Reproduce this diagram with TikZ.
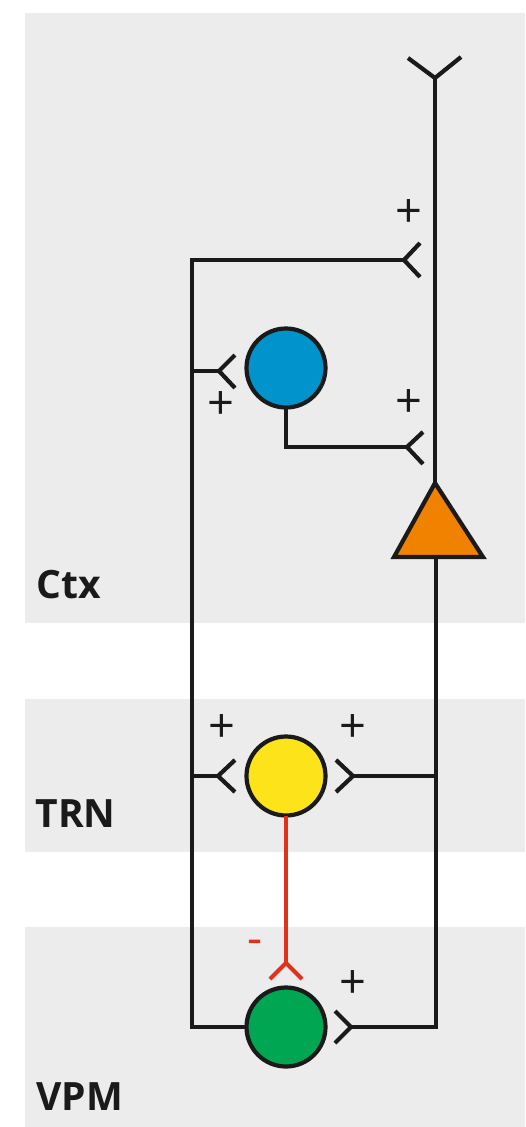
\documentclass[tikz,border=0pt]{standalone}
\usepackage{fontspec}
\setmainfont{Open Sans}
\definecolor{bandgray}{HTML}{EBECEB}
\definecolor{ink}{HTML}{1A1A1A}
\definecolor{cblue}{HTML}{0093CC}
\definecolor{cyellow}{HTML}{FCE31A}
\definecolor{cgreen}{HTML}{00A651}
\definecolor{corange}{HTML}{F08200}
\definecolor{cred}{HTML}{E0301E}
\begin{document}
\begin{tikzpicture}[x=1pt,y=-1pt,
  wire/.style={draw=ink,line width=4.2pt,line cap=butt,line join=miter},
  inh/.style={draw=cred,line width=4.2pt,line cap=butt,line join=miter},
  cell/.style={circle,draw=ink,line width=4.2pt,minimum size=79pt,inner sep=0pt,outer sep=0pt},
  region/.style={anchor=base west,text=ink,font=\bfseries\fontsize{39}{39}\selectfont},
  sign/.style={text=ink,inner sep=0pt,font=\fontsize{47}{47}\selectfont},
  negsign/.style={text=cred,inner sep=0pt,font=\fontsize{47}{47}\selectfont}]
\useasboundingbox (0,0) rectangle (525,1127);
% bands
\fill[bandgray] (25,13) rectangle (525,623);
\fill[bandgray] (25,699) rectangle (525,852);
\fill[bandgray] (25,927) rectangle (525,1127);
% labels
\node[region] (ctx) at (33,598) {Ctx};
\node[region] (trn) at (32,827) {TRN};
\node[region] (vpm) at (33,1110) {VPM};
% cells
\node[cell,fill=cblue] (blue) at (286,368) {};
\node[cell,fill=cyellow] (yellow) at (286,776) {};
\node[cell,fill=cgreen] (green) at (286,1027) {};
% pyramidal cell
\coordinate (tA) at (435,483);
\coordinate (tL) at (394,557);
\coordinate (tR) at (483,557);
\coordinate (tB) at (436,557);
\filldraw[fill=corange,draw=ink,line width=4.2pt,line join=miter] (tA) -- (tL) -- (tR) -- cycle;
% key coordinates
\coordinate (top) at (435,78);
\coordinate (lt) at (192,260);
\coordinate (lb) at (192,1027);
\coordinate (rb) at (436,1027);
\coordinate (s1) at (404,260);
\coordinate (s2) at (219,371);
\coordinate (b1) at (286,447);
\coordinate (s3) at (407,447);
\coordinate (s4) at (218,776);
\coordinate (s5) at (353,776);
\coordinate (s6) at (286,963);
\coordinate (s7) at (351,1027);
% apical dendrite
\draw[wire] (top) -- (tA);
\draw[wire] (408,58) -- (top) -- (461,57);
% axon of pyramidal cell down to VPM
\draw[wire] (tB) -- (rb) -- (s7);
\draw[wire] (335,1011) -- (s7) -- (335,1043);
% branch to TRN
\draw[wire] (436,776) -- (s5);
\draw[wire] (336,760) -- (s5) -- (336,792);
% VPM axon loop
\draw[wire] (green.west) -- (lb) -- (lt) -- (s1);
\draw[wire] (420,243) -- (s1) -- (420,277);
\draw[wire] (192,371) -- (s2);
\draw[wire] (235,355) -- (s2) -- (235,388);
\draw[wire] (192,776) -- (s4);
\draw[wire] (235,760) -- (s4) -- (235,792);
% interneuron output
\draw[wire] (blue.south) -- (b1) -- (s3);
\draw[wire] (423,432) -- (s3) -- (423,464);
% inhibitory TRN -> VPM
\draw[inh] (yellow.south) -- (s6);
\draw[inh] (270,979) -- (s6) -- (302,979);
% signs
\node[sign] (p1) at (409,214) {+};
\node[sign] (p2) at (221,406) {+};
\node[sign] (p3) at (409,404) {+};
\node[sign] (p4) at (222,729) {+};
\node[sign] (p5) at (353,729) {+};
\node[sign] (p6) at (353,985) {+};
\node[negsign] (m1) at (255,947) {-};
\end{tikzpicture}
\end{document}
